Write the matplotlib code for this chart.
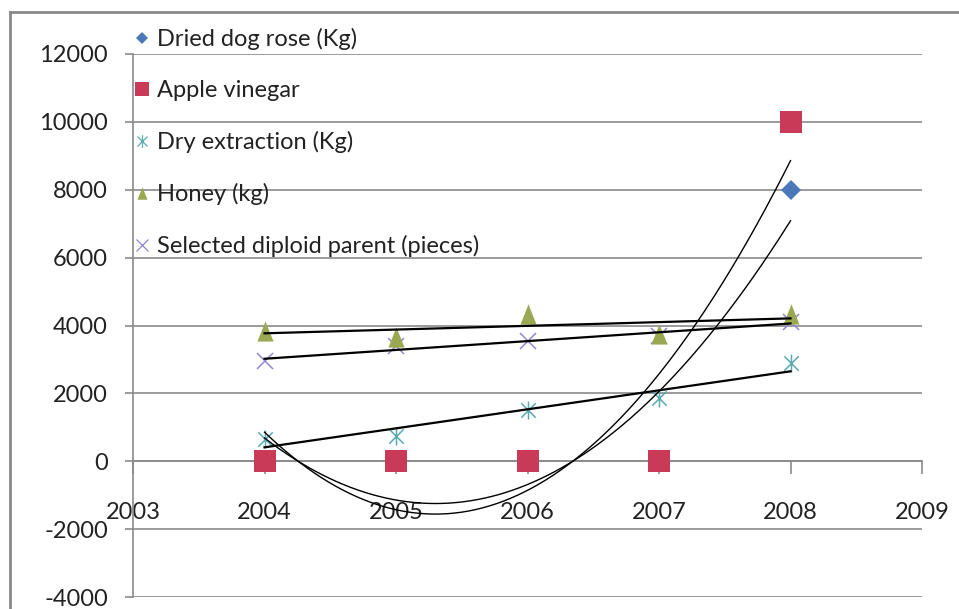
import numpy as np
import matplotlib
matplotlib.use("Agg")
import matplotlib.pyplot as plt
from matplotlib.lines import Line2D
from matplotlib.path import Path

plt.rcParams['font.family'] = ['Lato', 'DejaVu Sans']

# --- data -------------------------------------------------------------
years = [2004, 2005, 2006, 2007, 2008]
dried_dog_rose = [0, 0, 0, 0, 8000]
apple_vinegar = [0, 0, 0, 0, 10000]
dry_extraction = [650, 750, 1500, 1850, 2900]
honey = [3850, 3650, 4350, 3750, 4350]
diploid_parent = [2950, 3400, 3550, 3700, 4100]

series_names = ["Dried dog rose (Kg)", "Apple vinegar", "Dry extraction (Kg)",
                "Honey (kg)", "Selected diploid parent (pieces)"]

x_ticks = [2003, 2004, 2005, 2006, 2007, 2008, 2009]
y_ticks = [-4000, -2000, 0, 2000, 4000, 6000, 8000, 10000, 12000]
y_tick_labels = ["-4000", "-2000", "0", "2000", "4000", "6000", "8000", "10000", "12000"]

# --- styling ----------------------------------------------------------
W, H = 959, 609
C_BLUE = "#4a78b8"
C_RED = "#c83a58"
C_TEAL = "#5aaab4"
C_OLIVE = "#9aa852"
C_PURPLE = "#8f88d0"
C_GRID = "#8a8a8a"
C_TEXT = "#222222"

asterisk = Path([(-1, -1), (1, 1), (-1, 1), (1, -1), (0, -1.25), (0, 1.25)],
                [Path.MOVETO, Path.LINETO, Path.MOVETO, Path.LINETO, Path.MOVETO, Path.LINETO])
tall_triangle = Path([(0, 1), (-0.8, -1), (0.8, -1), (0, 1)],
                     [Path.MOVETO, Path.LINETO, Path.LINETO, Path.CLOSEPOLY])

fig = plt.figure(figsize=(W / 100, H / 100), dpi=100)
fig.patch.set_facecolor("white")

def px_x(v):
    return v / W

def px_y(v):
    return 1 - v / H

ax_left, ax_right, ax_top, ax_bottom = 133, 922, 54, 597
ax = fig.add_axes([px_x(ax_left), px_y(ax_bottom),
                   (ax_right - ax_left) / W, (ax_bottom - ax_top) / H])

ax.set_xlim(2003, 2009)
ax.set_ylim(-4000, 12000)

# gridlines
ax.set_yticks(y_ticks)
ax.set_yticklabels(y_tick_labels)
ax.yaxis.grid(True, color=C_GRID, lw=1.2)
ax.set_axisbelow(True)
ax.set_xticks(x_ticks)
ax.set_xticklabels([str(v) for v in x_ticks])

for s in ("top", "right"):
    ax.spines[s].set_visible(False)
ax.spines["left"].set_color(C_GRID)
ax.spines["left"].set_linewidth(1.2)
ax.spines["bottom"].set_position(("data", 0))
ax.spines["bottom"].set_color(C_GRID)
ax.spines["bottom"].set_linewidth(1.2)

ax.tick_params(axis="y", direction="out", length=6, width=1.2, color=C_GRID,
               pad=12, labelsize=17, labelcolor=C_TEXT)
ax.tick_params(axis="x", direction="out", length=9, width=1.2, color=C_GRID,
               pad=20, labelsize=17, labelcolor=C_TEXT)

# markers
ax.plot(years, dried_dog_rose, ls="none", marker="D", ms=10, color=C_BLUE,
        mew=0, zorder=3, clip_on=False)
ax.plot(years, apple_vinegar, ls="none", marker="s", ms=15.5, color=C_RED,
        mew=0, zorder=4, clip_on=False)
ax.plot(years, dry_extraction, ls="none", marker=asterisk, ms=13, color=C_TEAL,
        mfc="none", mew=1.1, zorder=3)
ax.plot(years, honey, ls="none", marker=tall_triangle, ms=14.5, color=C_OLIVE,
        mew=0, zorder=3)
ax.plot(years, diploid_parent, ls="none", marker="x", ms=12, color=C_PURPLE,
        mew=1.1, zorder=2.9)

# trendlines
xs = np.linspace(years[0], years[-1], 300)
for data, deg, lw in [(dried_dog_rose, 2, 1.0), (apple_vinegar, 2, 1.0),
                      (dry_extraction, 1, 1.6), (honey, 1, 1.6),
                      (diploid_parent, 1, 1.6)]:
    coef = np.polyfit(years, data, deg)
    ax.plot(xs, np.polyval(coef, xs), color="black", lw=lw, zorder=5)

# legend
handles = [
    Line2D([], [], ls="none", marker="D", ms=6, color=C_BLUE, mew=0),
    Line2D([], [], ls="none", marker="s", ms=10, color=C_RED, mew=0),
    Line2D([], [], ls="none", marker=asterisk, ms=9, color=C_TEAL, mfc="none", mew=0.9),
    Line2D([], [], ls="none", marker=tall_triangle, ms=9, color=C_OLIVE, mew=0),
    Line2D([], [], ls="none", marker="x", ms=8, color=C_PURPLE, mew=0.9),
]
leg = fig.legend(handles, series_names, loc="upper left",
                 bbox_to_anchor=(px_x(135), px_y(28)), frameon=False,
                 fontsize=17, labelspacing=1.27, handlelength=0.6,
                 handletextpad=0.35, borderpad=0, borderaxespad=0)
for t in leg.get_texts():
    t.set_color(C_TEXT)

# chart-area border
fig.add_artist(Line2D([px_x(10), px_x(10)], [0, px_y(12)], transform=fig.transFigure,
                      color=C_GRID, lw=2))
fig.add_artist(Line2D([px_x(10), 1], [px_y(12), px_y(12)], transform=fig.transFigure,
                      color=C_GRID, lw=2))

fig.savefig("out.png", dpi=100)
